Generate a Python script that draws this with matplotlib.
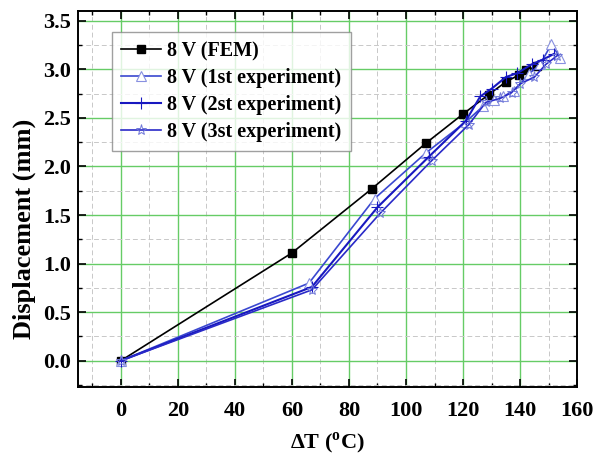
import numpy as np
import matplotlib
matplotlib.use("Agg")
import matplotlib.pyplot as plt
from matplotlib.ticker import MultipleLocator

plt.rcParams['font.family'] = 'Liberation Serif'
plt.rcParams['font.weight'] = 'bold'
plt.rcParams['mathtext.fontset'] = 'custom'
plt.rcParams['mathtext.rm'] = 'Liberation Serif:bold'
plt.rcParams['mathtext.bf'] = 'Liberation Serif:bold'

# Data
fem_x = [0, 60, 88, 107, 120, 129, 135, 139.5, 142, 146]
fem_y = [0, 1.11, 1.77, 2.24, 2.54, 2.74, 2.87, 2.94, 2.99, 3.03]

exp1_x = [0, 66, 89, 107, 121, 127, 131, 134, 138, 143, 147, 151, 154]
exp1_y = [0, 0.80, 1.67, 2.14, 2.46, 2.62, 2.68, 2.72, 2.78, 2.95, 3.05, 3.26, 3.12]

exp2_x = [0, 67, 90, 108, 121, 126, 130, 135, 139, 144, 148, 152]
exp2_y = [0, 0.76, 1.58, 2.10, 2.47, 2.72, 2.80, 2.92, 2.96, 3.05, 3.10, 3.16]

exp3_x = [0, 67, 91, 109, 122, 128, 133, 137, 140, 145, 149, 153]
exp3_y = [0, 0.73, 1.52, 2.06, 2.43, 2.66, 2.70, 2.76, 2.85, 2.92, 3.05, 3.14]

labels = ['8 V (FEM)', '8 V (1st experiment)', '8 V (2st experiment)', '8 V (3st experiment)']

fig = plt.figure(figsize=(6.14, 4.58), dpi=100)
ax = fig.add_axes([0.127, 0.155, 0.813, 0.821])

ax.plot(fem_x, fem_y, color='black', lw=1.2, marker='s', ms=5.5, label=labels[0])
ax.plot(exp1_x, exp1_y, color='#3a48d0', lw=1.2, marker='^', ms=7, mfc='white', mec='#8890e0', mew=0.8, label=labels[1])
ax.plot(exp2_x, exp2_y, color='#1818c0', lw=1.5, marker='+', ms=8, mew=0.8, label=labels[2])
ax.plot(exp3_x, exp3_y, color='#2a2ac8', lw=1.2, marker='*', ms=8, mfc='none', mec='#7078d8', mew=0.7, label=labels[3])

ax.set_xlim(-15, 160)
ax.set_ylim(-0.27, 3.6)
ax.xaxis.set_major_locator(MultipleLocator(20))
ax.xaxis.set_minor_locator(MultipleLocator(10))
ax.yaxis.set_major_locator(MultipleLocator(0.5))
ax.yaxis.set_minor_locator(MultipleLocator(0.25))
ax.yaxis.set_major_formatter(matplotlib.ticker.FormatStrFormatter('%.1f'))

ax.grid(which='major', color='#66cc66', lw=1.0)
ax.grid(which='minor', color='#c8c8c8', lw=0.7, ls=(0, (5, 3)))
ax.set_axisbelow(True)

ax.tick_params(which='major', direction='in', length=6, width=1.2, top=True, right=True, labelsize=16)
ax.tick_params(axis='x', which='major', pad=10)
ax.tick_params(axis='y', which='major', pad=5)
ax.tick_params(which='minor', direction='in', length=3, width=1.0, top=True, right=True)
for s in ax.spines.values():
    s.set_linewidth(1.4)

ax.set_xlabel(r'$\Delta$T ($^{\mathrm{o}}$C)', fontsize=16, fontweight='bold', labelpad=7)
ax.set_ylabel('Displacement (mm)', fontsize=19, fontweight='bold')
ax.yaxis.set_label_coords(-0.085, 0.42)

leg = ax.legend(loc='upper left', bbox_to_anchor=(0.06, 0.955), fontsize=14.5, frameon=True,
                fancybox=False, edgecolor='#888888', handlelength=2.0, borderpad=0.45,
                labelspacing=0.35, handletextpad=0.3, borderaxespad=0.2)
leg.get_frame().set_linewidth(1.0)

fig.savefig('out.png', dpi=100)
